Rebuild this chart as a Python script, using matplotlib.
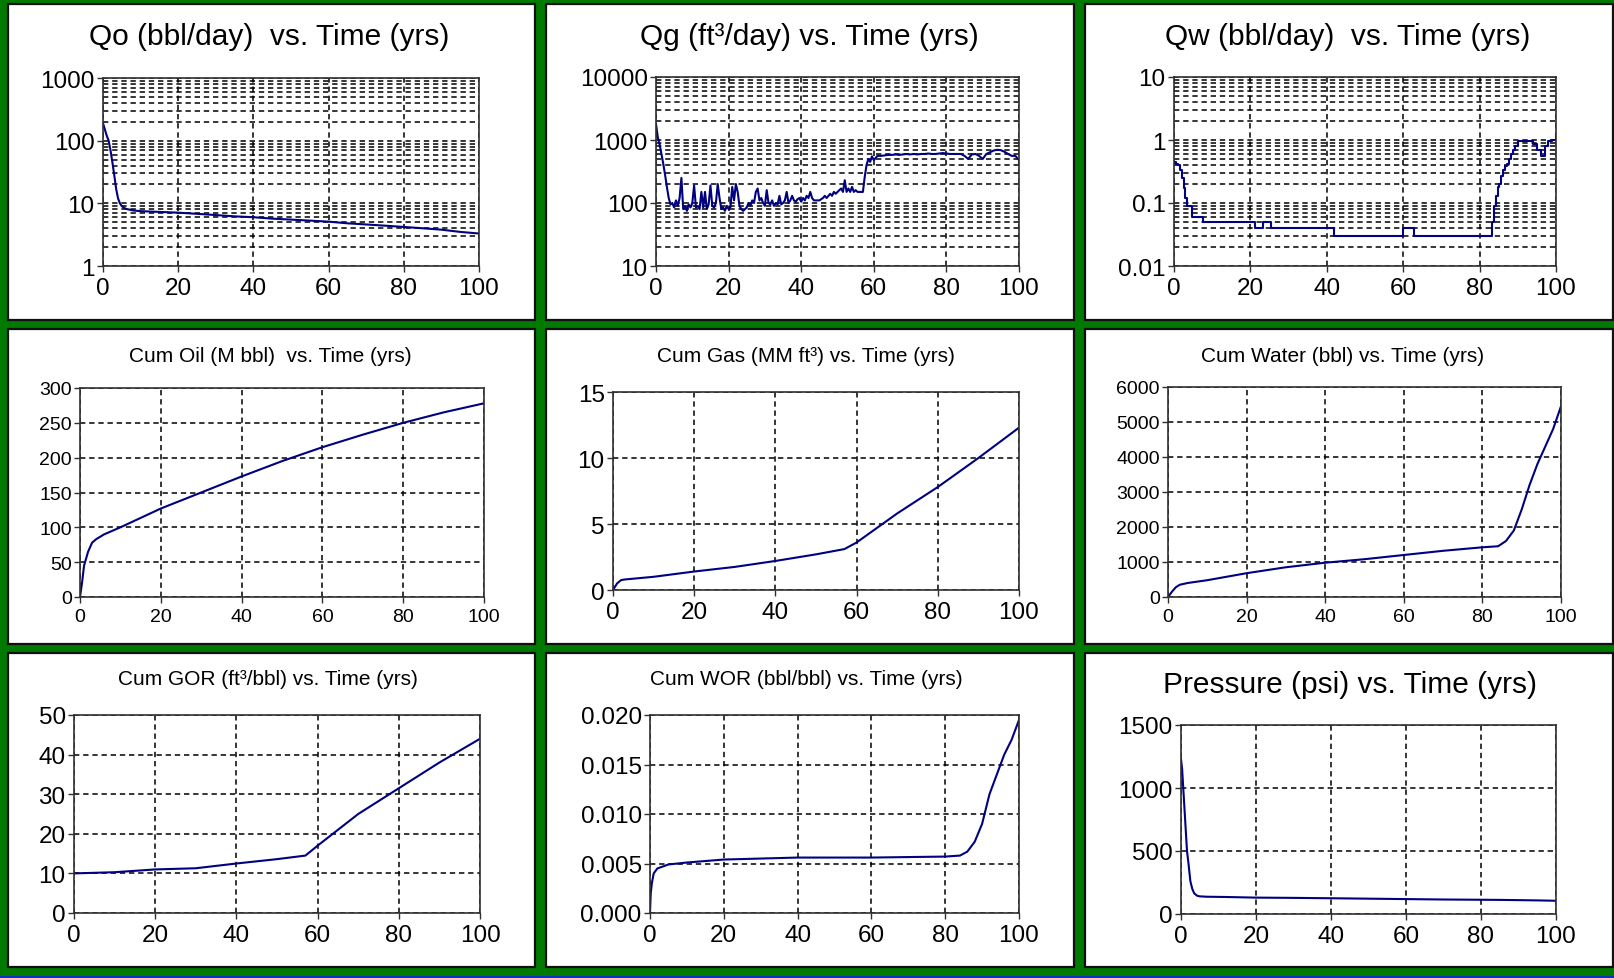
import numpy as np
import matplotlib
matplotlib.use('Agg')
import matplotlib.pyplot as plt
from matplotlib.patches import Rectangle
from matplotlib.ticker import LogLocator, NullFormatter

plt.rcParams['font.family'] = ['Liberation Sans', 'DejaVu Sans']

W, H = 1615, 979

# ---- data ----
t_qo = [0, 0.5, 1, 1.5, 2, 2.5, 3, 3.5, 4, 4.5, 5, 6, 8, 10, 15, 20, 25, 30, 35,
        40, 45, 50, 55, 60, 65, 70, 75, 80, 85, 90, 95, 100]
qo = [190, 150, 120, 100, 70, 45, 28, 17, 12, 10, 9, 8.2, 7.7, 7.5, 7.3, 7.1, 6.8, 6.5, 6.2,
      6.0, 5.7, 5.5, 5.3, 5.1, 4.8, 4.6, 4.4, 4.2, 4.0, 3.8, 3.5, 3.3]

t_qg = list(np.arange(0, 61.5, 0.5)) + list(np.arange(62, 101, 1.0))
qg = [1800, 1100, 850, 600, 420, 280, 180, 120, 95, 100,
      85, 110, 90, 120, 250, 80, 90, 75, 95, 85,
      100, 190, 85, 90, 80, 150, 85, 150, 80, 95,
      190, 90, 85, 100, 200, 120, 80, 85, 75, 90,
      80, 85, 180, 110, 200, 150, 90, 80, 75, 80,
      85, 100, 90, 110, 100, 150, 170, 110, 120, 100,
      90, 160, 100, 95, 110, 90, 100, 95, 130, 95,
      100, 110, 150, 100, 110, 130, 110, 105, 115, 120,
      105, 120, 110, 130, 120, 150, 120, 110, 110, 110,
      110, 115, 120, 130, 120, 130, 140, 130, 150, 140,
      150, 160, 170, 150, 230, 150, 170, 150, 180, 150,
      160, 150, 150, 150, 150, 260, 400, 500, 450, 550,
      480, 520, 560,
      560, 570, 580, 580, 590, 580, 590, 600, 590, 600,
      590, 600, 600, 610, 600, 600, 610, 620, 610, 600,
      600, 600, 600, 560, 500, 590, 600, 560, 500, 600,
      640, 680, 700, 690, 650, 600, 560, 560, 480]

t_qw = [0, 0.5, 1, 1.5, 2, 2.5, 3, 3.5, 4.6, 7.7, 21.2, 23.2, 25.3, 41.9, 60.0, 62.7,
        82.7, 83.2, 83.7, 84.2, 84.7, 85.2, 85.7, 86.2, 86.7, 87.2, 87.7, 88.2, 88.7,
        89.3, 90.1, 91, 92, 93, 94, 95, 96.2, 97, 98, 99, 100]
qw = [0.45, 0.42, 0.4, 0.33, 0.25, 0.17, 0.12, 0.09, 0.06, 0.05, 0.04, 0.05, 0.04, 0.03, 0.04, 0.03,
      0.03, 0.05, 0.09, 0.13, 0.18, 0.2, 0.27, 0.33, 0.38, 0.42, 0.5, 0.6, 0.7,
      0.8, 0.97, 0.98, 0.95, 0.98, 0.85, 0.7, 0.56, 0.8, 0.95, 1.0, 1.15]

t_coil = [0, 0.5, 1, 2, 3, 4, 6, 10, 20, 30, 40, 50, 60, 70, 80, 90, 100]
coil = [0, 20, 45, 65, 78, 83, 90, 100, 127, 150, 173, 195, 215, 233, 250, 265, 278]

t_cgas = [0, 1, 2, 3, 10, 20, 30, 40, 50, 57, 60, 65, 70, 80, 90, 100]
cgas = [0, 0.5, 0.75, 0.8, 1.0, 1.4, 1.75, 2.2, 2.7, 3.1, 3.6, 4.7, 5.8, 7.8, 10.0, 12.3]

t_cwat = [0, 1, 2, 3, 5, 10, 20, 30, 40, 50, 60, 70, 80, 84, 86, 88, 90, 92, 94, 96, 98, 100]
cwat = [0, 150, 280, 350, 400, 480, 680, 850, 980, 1080, 1200, 1320, 1420, 1450, 1600, 1900,
        2500, 3200, 3800, 4300, 4800, 5450]

t_gor = [0, 10, 20, 30, 40, 50, 57, 60, 65, 70, 80, 90, 100]
gor = [10, 10.3, 11, 11.3, 12.5, 13.6, 14.5, 17, 21, 25, 31.5, 38, 44]

t_wor = [0, 0.2, 0.5, 1, 2, 5, 10, 20, 40, 60, 80, 84, 86, 88, 90, 92, 94, 96, 98, 100]
wor = [0, 0.002, 0.003, 0.004, 0.0045, 0.0049, 0.0051, 0.0054, 0.0056, 0.0056, 0.0057,
       0.0058, 0.0062, 0.0072, 0.009, 0.012, 0.014, 0.016, 0.0175, 0.0195]

t_p = [0, 0.3, 0.6, 1, 1.6, 2, 2.5, 3, 3.5, 4.3, 5, 7, 12, 20, 30, 40, 55, 70, 85, 95, 100]
pres = [1230, 1150, 1000, 800, 500, 400, 260, 200, 165, 145, 140, 137, 135, 130, 128,
        125, 120, 115, 112, 108, 105]

x_ticks = [0, 20, 40, 60, 80, 100]

titles = ['Qo (bbl/day)  vs. Time (yrs)', 'Qg (ft\u00b3/day) vs. Time (yrs)',
          'Qw (bbl/day)  vs. Time (yrs)', 'Cum Oil (M bbl)  vs. Time (yrs)',
          'Cum Gas (MM ft\u00b3) vs. Time (yrs)', 'Cum Water (bbl) vs. Time (yrs)',
          'Cum GOR (ft\u00b3/bbl) vs. Time (yrs)', 'Cum WOR (bbl/bbl) vs. Time (yrs)',
          'Pressure (psi) vs. Time (yrs)']

LINE = '#000080'
LW = 1.5
BIG_T, SMALL_T = 21.5, 15
BIG_K, SMALL_K = 17.5, 14
GRID = dict(color='black', linestyle=(0, (3.5, 2.5)), linewidth=1.1)

fig = plt.figure(figsize=(W / 100, H / 100), dpi=100)
fig.patch.set_facecolor('#007a00')
fig.patches.append(Rectangle((0, 0), 1, 2.5 / H, transform=fig.transFigure,
                             facecolor='#1030c0', edgecolor='none', zorder=-10))

# white panels (behind the axes)
cols = [(8, 535), (546, 1074), (1085, 1613)]
rows = [(5, 321), (330, 645), (654, 968)]
for (x0, x1) in cols:
    for (y0, y1) in rows:
        fig.patches.append(Rectangle((x0 / W, 1 - y1 / H), (x1 - x0) / W, (y1 - y0) / H,
                                     transform=fig.transFigure, facecolor='white',
                                     edgecolor='#101010', linewidth=1.6, zorder=-5))


def make_axes(l, t, r, b, ksize):
    ax = fig.add_axes([l / W, 1 - b / H, (r - l) / W, (b - t) / H])
    ax.set_facecolor('white')
    for s in ax.spines.values():
        s.set_color('#303030')
        s.set_linewidth(1.2)
    ax.set_xlim(0, 100)
    ax.set_xticks(x_ticks)
    ax.tick_params(which='major', direction='out', length=4, width=1, pad=2,
                   labelsize=ksize, colors='#303030', labelcolor='black')
    ax.tick_params(axis='x', pad=4)
    ax.tick_params(which='minor', length=0)
    ax.set_axisbelow(True)
    return ax


def title(x, y, text, size):
    fig.text(x / W, 1 - y / H, text, ha='center', va='center', fontsize=size, color='black')


def log_grid(ax, lo, hi, labels):
    ax.set_yscale('log')
    ax.set_ylim(lo, hi)
    ax.yaxis.set_minor_locator(LogLocator(base=10, subs=range(2, 10), numticks=20))
    ax.yaxis.set_minor_formatter(NullFormatter())
    ax.set_yticks([lo * 10 ** i for i in range(len(labels))], labels=labels)
    ax.set_ylim(lo, hi)
    ax.grid(True, which='both', axis='y', **GRID)
    ax.grid(True, which='major', axis='x', **GRID)


def lin_grid(ax):
    ax.grid(True, which='major', **GRID)


# Qo
ax = make_axes(103, 79, 479, 267, BIG_K)
log_grid(ax, 1, 1000, ['1', '10', '100', '1000'])
ax.plot(t_qo, qo, color=LINE, linewidth=LW)
title(269, 37, titles[0], BIG_T)

# Qg
ax = make_axes(656, 78, 1019, 267, BIG_K)
log_grid(ax, 10, 10000, ['10', '100', '1000', '10000'])
ax.plot(t_qg, qg, color=LINE, linewidth=LW)
title(809, 37, titles[1], BIG_T)

# Qw
ax = make_axes(1174, 78, 1556, 267, BIG_K)
log_grid(ax, 0.01, 10, ['0.01', '0.1', '1', '10'])
ax.plot(t_qw, qw, color=LINE, linewidth=LW, drawstyle='steps-post')
title(1348, 37, titles[2], BIG_T)

# Cum oil
ax = make_axes(80, 389, 484, 598, SMALL_K)
ax.set_ylim(0, 300)
ax.set_yticks(range(0, 301, 50))
lin_grid(ax)
ax.plot(t_coil, coil, color=LINE, linewidth=LW)
title(270, 357, titles[3], SMALL_T)

# Cum gas
ax = make_axes(613, 393, 1019, 591, BIG_K)
ax.set_ylim(0, 15)
ax.set_yticks([0, 5, 10, 15])
lin_grid(ax)
ax.plot(t_cgas, cgas, color=LINE, linewidth=LW)
title(806, 357, titles[4], SMALL_T)

# Cum water
ax = make_axes(1168, 388, 1561, 598, SMALL_K)
ax.set_ylim(0, 6000)
ax.set_yticks(range(0, 6001, 1000))
lin_grid(ax)
ax.plot(t_cwat, cwat, color=LINE, linewidth=LW)
title(1343, 357, titles[5], SMALL_T)

# Cum GOR
ax = make_axes(74, 716, 480, 914, BIG_K)
ax.set_ylim(0, 50)
ax.set_yticks(range(0, 51, 10))
lin_grid(ax)
ax.plot(t_gor, gor, color=LINE, linewidth=LW)
title(268, 680, titles[6], SMALL_T)

# Cum WOR
ax = make_axes(650, 716, 1019, 914, BIG_K)
ax.set_ylim(0, 0.02)
ax.set_yticks([0, 0.005, 0.01, 0.015, 0.02],
              labels=['0.000', '0.005', '0.010', '0.015', '0.020'])
lin_grid(ax)
ax.plot(t_wor, wor, color=LINE, linewidth=LW)
title(806, 680, titles[7], SMALL_T)

# Pressure
ax = make_axes(1181, 726, 1556, 915, BIG_K)
ax.set_ylim(0, 1500)
ax.set_yticks([0, 500, 1000, 1500])
lin_grid(ax)
ax.plot(t_p, pres, color=LINE, linewidth=LW)
title(1350, 685, titles[8], BIG_T)

fig.savefig('out.png', dpi=100, facecolor=fig.get_facecolor())
